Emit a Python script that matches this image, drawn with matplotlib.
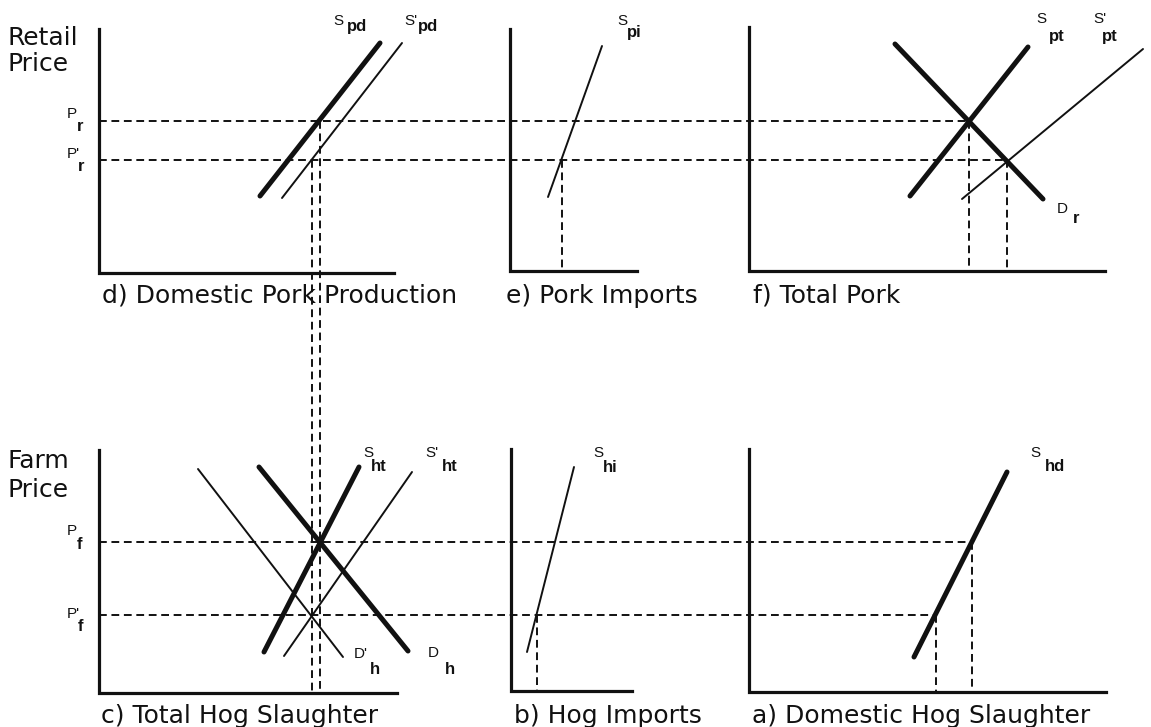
import matplotlib.pyplot as plt
from matplotlib import font_manager

# page is drawn in pixel units of the scanned figure (x right, y down)
W, H = 1151, 727

# axis frames of the six panels
panel_titles = ['d) Domestic Pork Production', 'e) Pork Imports', 'f) Total Pork',
                'c) Total Hog Slaughter', 'b) Hog Imports', 'a) Domestic Hog Slaughter']
frame_x0 = [99, 510, 749, 99, 511, 749]
frame_x1 = [394, 637, 1105, 397, 632, 1106]
frame_top = [29, 29, 27, 450, 449, 449]
frame_bottom = [273, 271, 271, 693, 691, 692]
title_x = [102, 506, 753, 101, 514, 752]
title_y = [303, 303, 303, 723, 723, 723]

# supply / demand schedules (end points)
curve_names = ['S_pd', "S'_pd", 'S_pi', 'S_pt', "S'_pt", 'D_r',
               'D_h', "D'_h", 'S_ht', "S'_ht", 'S_hi', 'S_hd']
curve_x0 = [260, 282, 548, 910, 962, 895, 259, 198, 264, 284, 527, 914]
curve_y0 = [196, 198, 197, 196, 199, 44, 467, 469, 652, 656, 652, 657]
curve_x1 = [380, 402, 602, 1028, 1143, 1043, 408, 343, 359, 412, 574, 1007]
curve_y1 = [43, 43, 46, 47, 49, 199, 651, 657, 467, 472, 467, 472]
curve_heavy = [True, False, False, True, False, True,
               True, False, True, False, False, True]

# price levels (horizontal dashed) and quantities (vertical dashed)
price_y = [121, 160, 542, 615]
price_x0 = [99, 99, 99, 99]
price_x1 = [969, 1007, 972, 936]
qty_x = [320, 312, 562, 969, 1007, 537, 936, 972]
qty_top = [121, 160, 160, 121, 160, 615, 615, 542]
qty_bottom = [693, 693, 271, 271, 271, 691, 692, 692]

# curve / price labels: main letter, subscript
lab_main = ['S', "S'", 'S', 'S', "S'", 'D', 'S', "S'", "D'", 'D', 'S', 'S',
            'P', "P'", 'P', "P'"]
lab_sub = ['pd', 'pd', 'pi', 'pt', 'pt', 'r', 'ht', 'ht', 'h', 'h', 'hi', 'hd',
           'r', 'r', 'f', 'f']
lab_xy = [(333, 25), (404, 25), (617, 25), (1036, 23), (1093, 23), (1057, 213),
          (363, 457), (425, 457), (354, 658), (428, 657), (593, 457), (1030, 457),
          (67, 118), (67, 158), (67, 535), (67, 618)]
sub_xy = [(347, 31), (418, 31), (627, 37), (1049, 41), (1102, 41), (1073, 223),
          (371, 471), (442, 471), (370, 674), (445, 674), (603, 472), (1045, 471),
          (77, 131), (78, 171), (77, 549), (78, 631)]

names = {f.name for f in font_manager.fontManager.ttflist}
narrow = 'Liberation Sans Narrow' if 'Liberation Sans Narrow' in names else 'Liberation Sans'
ink = '#111111'
big = dict(fontsize=18, family='DejaVu Sans', color=ink, va='baseline', ha='left')

fig = plt.figure(figsize=(W / 100, H / 100), dpi=100)
ax = fig.add_axes([0, 0, 1, 1])
ax.set_xlim(0, W)
ax.set_ylim(H, 0)
ax.axis('off')

for i in range(len(panel_titles)):
    ax.plot([frame_x0[i], frame_x0[i], frame_x1[i]],
            [frame_top[i], frame_bottom[i], frame_bottom[i]],
            color=ink, lw=2.3, solid_joinstyle='miter')
    ax.text(title_x[i], title_y[i], panel_titles[i], **big)

dash = (0, (4, 2.4))
for y, x0, x1 in zip(price_y, price_x0, price_x1):
    ax.plot([x0, x1], [y, y], color=ink, lw=1.4, linestyle=dash)
for x, t, b in zip(qty_x, qty_top, qty_bottom):
    ax.plot([x, x], [t, b], color=ink, lw=1.4, linestyle=dash)

for i in range(len(curve_names)):
    ax.plot([curve_x0[i], curve_x1[i]], [curve_y0[i], curve_y1[i]], color=ink,
            lw=3.6 if curve_heavy[i] else 1.4, solid_capstyle='round')

for m, s, (mx, my), (sx, sy) in zip(lab_main, lab_sub, lab_xy, sub_xy):
    ax.text(mx, my, m, fontsize=11, family=narrow, color=ink, va='baseline', ha='left')
    ax.text(sx, sy, s, fontsize=12, family=narrow, fontweight='bold', color=ink,
            va='baseline', ha='left')

ax.text(8, 45, 'Retail', **big)
ax.text(8, 71, 'Price', **big)
ax.text(8, 468, 'Farm', **big)
ax.text(8, 497, 'Price', **big)

fig.savefig('out.png', dpi=100, facecolor='white')
